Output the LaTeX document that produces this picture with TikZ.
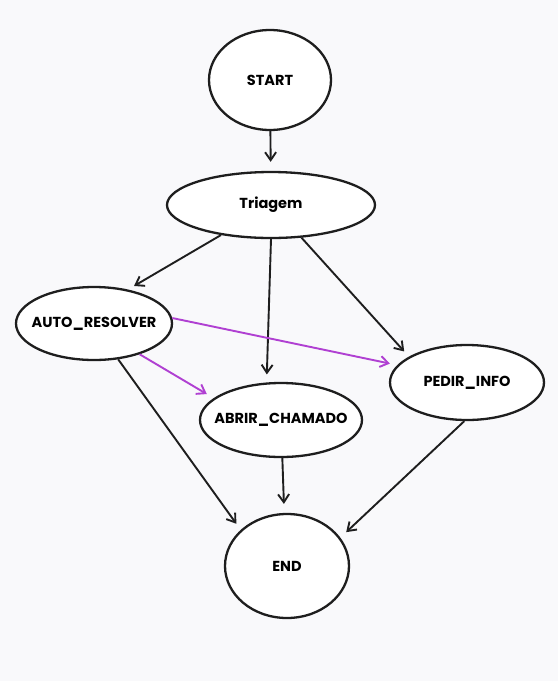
\documentclass[tikz,border=0pt]{standalone}
\usepackage{fontspec}
\setmainfont{Poppins}
\usetikzlibrary{arrows.meta,shapes.geometric}
\definecolor{flowInk}{HTML}{1E1E1E}
\definecolor{flowPurple}{HTML}{B040D2}
\definecolor{flowPaper}{HTML}{F9F9FB}
% label set in a zero-width box, so only the minimum sizes shape the ellipse
\newcommand{\statename}[1]{\makebox[0pt]{#1}}
\tikzset{
  state/.style={
    ellipse,
    draw=flowInk,
    line width=2.3pt,
    fill=white,
    inner sep=0pt,
    font=\fontsize{14.5}{16}\selectfont\bfseries
  },
  arrow/.style={-{Straight Barb[length=8pt,width=11pt]}, line width=1.9pt, draw=flowInk, shorten >=7pt},
  autoarrow/.style={arrow, draw=flowPurple}
}

\begin{document}
\begin{tikzpicture}[x=1pt,y=-1pt]
  \fill[flowPaper] (0,0) rectangle (558,681);
  \useasboundingbox (0,0) rectangle (558,681);

  \node[state, minimum width=122pt, minimum height=100pt] (start) at (270,80) {\statename{START}};
  \node[state, minimum width=208pt, minimum height=66pt] (triagem) at (271,205) {\statename{Triagem}};
  \node[state, minimum width=156pt, minimum height=73pt] (auto) at (94,323.5) {\statename{AUTO\_RESOLVER}};
  \node[state, minimum width=162pt, minimum height=74pt] (abrir) at (281,420) {\statename{ABRIR\_CHAMADO}};
  \node[state, minimum width=154pt, minimum height=75pt] (pedir) at (467,382.5) {\statename{PEDIR\_INFO}};
  \node[state, minimum width=124pt, minimum height=104pt] (end) at (287,566) {\statename{END}};

  \draw[arrow, shorten >=9pt] (start) -- (triagem);
  \draw[arrow] (triagem.211.6) -- (auto.45);
  \draw[arrow, shorten >=8pt] (triagem.south) -- (abrir.111);
  \draw[arrow] (triagem.313.6) -- (pedir.156.3);
  \draw[autoarrow, shorten >=7.5pt] (auto.4.1) -- (pedir.166);
  \draw[autoarrow, shorten >=8pt] (auto.326.2) -- (abrir.162.9);
  \draw[arrow, shorten >=7.5pt] (auto.304.7) -- (end.142);
  \draw[arrow, shorten >=9pt] (abrir.272) -- (end.93.3);
  \draw[arrow, shorten >=8pt] (pedir.266) -- (end.28.3);
\end{tikzpicture}
\end{document}
